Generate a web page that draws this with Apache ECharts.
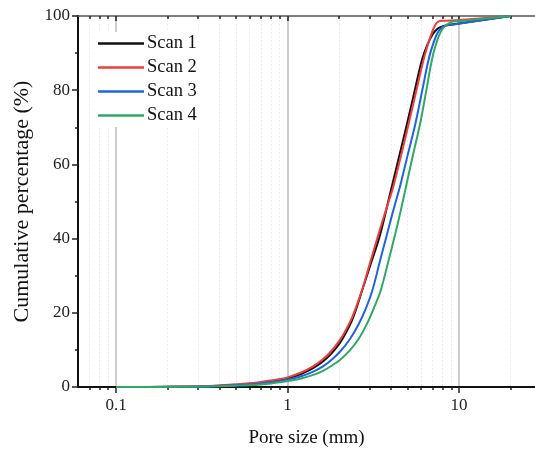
<!DOCTYPE html>
<html>
<head>
<meta charset="utf-8">
<script src="https://cdn.jsdelivr.net/npm/echarts@6/dist/echarts.min.js"></script>
<style>html,body{margin:0;padding:0;background:#fff}#c{width:535px;height:453px}</style>
</head>
<body>
<div id="c"></div>
<script>
// ---- data ----
const seriesNames = ['Scan 1', 'Scan 2', 'Scan 3', 'Scan 4'];
const scan1X = [0.1, 0.2, 0.3, 0.4, 0.5, 0.6, 0.7, 0.8, 0.9, 1.0, 1.2, 1.4, 1.6, 1.8, 2.02, 2.2, 2.4, 2.72, 3.0, 3.46, 4.0, 4.14, 4.5, 4.95, 5.5, 6.06, 6.5, 7.0, 7.5, 8.0, 8.5, 20];
const scan1Y = [0, 0.05, 0.15, 0.35, 0.6, 0.85, 1.15, 1.5, 1.9, 2.3, 3.5, 5.0, 6.8, 9.0, 11.9, 14.8, 18.5, 26, 32.1, 41, 53, 55.8, 62.7, 70.6, 79.7, 88, 92, 95, 96.6, 97.2, 97.5, 100];
const scan2X = [0.1, 0.2, 0.3, 0.4, 0.5, 0.6, 0.7, 0.8, 0.9, 1.0, 1.2, 1.4, 1.6, 1.8, 2.02, 2.2, 2.4, 2.71, 3.0, 3.38, 3.75, 4.1, 4.25, 4.6, 5.06, 5.6, 6.19, 6.6, 7.0, 7.3, 7.57, 8.0, 10, 20];
const scan2Y = [0, 0.06, 0.2, 0.4, 0.7, 1.0, 1.35, 1.75, 2.15, 2.6, 3.9, 5.5, 7.4, 9.7, 12.7, 15.6, 19.2, 26, 32.9, 41, 47.8, 53.4, 56.2, 62.6, 70.6, 79.4, 88, 92.5, 96, 97.8, 98.5, 98.7, 98.9, 100];
const scan3X = [0.1, 0.2, 0.3, 0.4, 0.5, 0.6, 0.7, 0.8, 0.9, 1.0, 1.2, 1.4, 1.6, 1.8, 2.02, 2.3, 2.6, 2.85, 3.12, 3.45, 3.79, 4.1, 4.49, 4.59, 5.0, 5.54, 6.1, 6.62, 7.0, 7.5, 8.0, 8.5, 9.5, 20];
const scan3Y = [0, 0.04, 0.12, 0.3, 0.5, 0.7, 0.95, 1.25, 1.6, 2.0, 2.9, 4.1, 5.5, 7.3, 9.5, 12.8, 17, 21, 26, 33.8, 41, 47.0, 53.5, 55.2, 62.3, 70.6, 80, 88, 92, 95.5, 97, 97.5, 97.8, 100];
const scan4X = [0.1, 0.2, 0.3, 0.4, 0.5, 0.6, 0.7, 0.8, 0.9, 1.0, 1.2, 1.4, 1.6, 1.8, 2.02, 2.3, 2.6, 2.9, 3.2, 3.49, 3.85, 4.23, 4.55, 4.84, 5.0, 5.4, 5.92, 6.42, 6.93, 7.4, 8.0, 8.9, 10, 20];
const scan4Y = [0, 0.03, 0.08, 0.2, 0.35, 0.5, 0.7, 0.95, 1.25, 1.6, 2.3, 3.2, 4.3, 5.7, 7.3, 9.8, 13, 17, 21.5, 26, 33.5, 41, 47.2, 52.8, 55.8, 62.8, 70.9, 79.6, 88, 93, 96.5, 98.3, 98.6, 100];
const majorTicks = [0.1, 1, 10];
const minorTicks = [0.07, 0.08, 0.09, 0.2, 0.3, 0.4, 0.5, 0.6, 0.7, 0.8, 0.9, 2, 3, 4, 5, 6, 7, 8, 9, 20];
const xMin = 0.06, xMax = 27.7;
const yMin = 0, yMax = 100, yStep = 20;

// ---- chart ----
const colors = ['#111111', '#f03c3c', '#1f63e0', '#2fa862'];
const font = 'Liberation Serif';
const chart = echarts.init(document.getElementById('c'), null, {renderer: 'canvas'});
const zip = (xs, ys) => xs.map((x, i) => [x, ys[i]]);
const allData = [zip(scan1X, scan1Y), zip(scan2X, scan2Y), zip(scan3X, scan3Y), zip(scan4X, scan4Y)];

function xAx(pos, ticks, len, inside, opts) {
  return Object.assign({
    type: 'log', logBase: 10, min: xMin, max: xMax, position: pos, z: 0,
    axisLine: {show: false},
    axisTick: {show: true, customValues: ticks, length: len, inside: inside, lineStyle: {color: '#222', width: 1.5}},
    axisLabel: {show: false},
    splitLine: {show: false},
    minorTick: {show: false}, minorSplitLine: {show: false}
  }, opts || {});
}

chart.setOption({
  animation: false,
  backgroundColor: '#fff',
  grid: {left: 78, right: 0, top: 16, bottom: 66, containLabel: false},
  legend: {
    orient: 'vertical', left: 94, top: 32, z: 20,
    data: seriesNames,
    icon: 'rect', itemWidth: 46, itemHeight: 2.5, itemGap: 5,
    backgroundColor: '#fff', padding: [2, 4, 2, 4],
    textStyle: {fontFamily: font, fontSize: 18.5, color: '#111', padding: [0, 0, 0, -2]}
  },
  xAxis: [
    xAx('bottom', majorTicks, 6, false, {
      name: 'Pore size (mm)', nameLocation: 'middle', nameGap: 42,
      nameTextStyle: {fontFamily: font, fontSize: 19, color: '#111'},
      axisLine: {show: true, onZero: false, lineStyle: {color: '#111', width: 2}},
      axisLabel: {show: true, customValues: majorTicks, fontFamily: font, fontSize: 17, color: '#222', margin: 10,
        formatter: v => String(+v.toPrecision(3))},
      splitLine: {show: true, lineStyle: {color: '#bcbcbc', width: 1.5}}
    }),
    xAx('bottom', minorTicks, 3, false, {
      splitLine: {show: true, lineStyle: {color: '#ececec', width: 1, type: [2, 2]}}
    }),
    xAx('top', majorTicks, 5, true, {
      axisLine: {show: true, onZero: false, lineStyle: {color: '#555', width: 1.5}}
    }),
    xAx('top', minorTicks, 3, true)
  ],
  yAxis: {
    type: 'value', min: yMin, max: yMax, interval: yStep, z: 0,
    name: 'Cumulative percentage (%)', nameLocation: 'middle', nameGap: 36,
    nameTextStyle: {fontFamily: font, fontSize: 22, color: '#111'},
    axisLine: {show: true, lineStyle: {color: '#111', width: 2}},
    axisTick: {show: true, length: 6, lineStyle: {color: '#222', width: 1.5}},
    minorTick: {show: true, splitNumber: 2, length: 3, lineStyle: {color: '#222', width: 1.5}},
    axisLabel: {fontFamily: font, fontSize: 17, color: '#222', margin: 8},
    splitLine: {show: false}
  },
  series: allData.map((d, i) => ({
    name: seriesNames[i], type: 'line', data: d, xAxisIndex: 0,
    showSymbol: false, smooth: 0.35, clip: false, zlevel: 1,
    lineStyle: {color: colors[i], width: 2},
    itemStyle: {color: colors[i]},
    z: 10 + i
  }))
});
</script>
</body>
</html>
